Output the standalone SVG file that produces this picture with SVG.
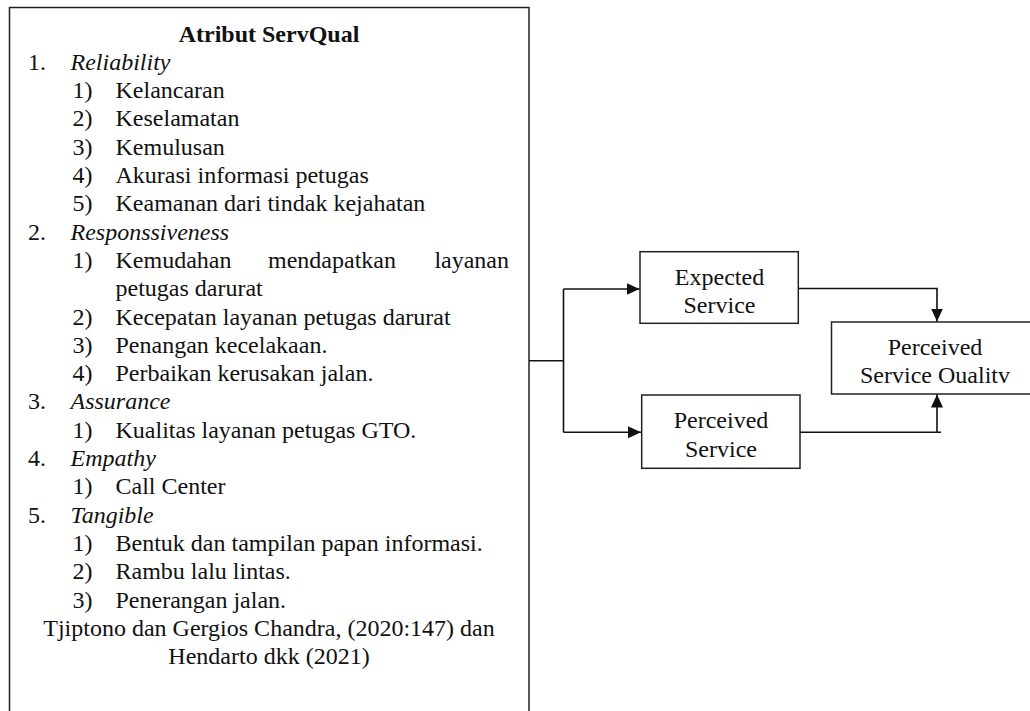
<svg xmlns="http://www.w3.org/2000/svg" width="1030" height="711" viewBox="0 0 1030 711">
<style>
  .t { font-family: "Liberation Serif", "Times New Roman", serif; font-size: 24px; fill: #111; }
  .b { font-weight: bold; }
  .i { font-style: italic; }
  .m { text-anchor: middle; }
  .box { fill: #fff; stroke: #222; stroke-width: 1.5; }
  .ln { fill: none; stroke: #111; stroke-width: 1.6; }
</style>
<defs>
  <marker id="arr" markerUnits="userSpaceOnUse" markerWidth="14" markerHeight="14" viewBox="0 0 14 14" refX="13" refY="7" orient="auto">
    <path d="M0,1 L13,7 L0,13 Z" fill="#111"/>
  </marker>
</defs>
<rect width="1030" height="711" fill="#fff"/>

<g id="servqual-box">
  <rect class="box" x="9.5" y="7.5" width="519.5" height="720"/>
  <text class="t b m" x="269" y="41.5">Atribut ServQual</text>
  <text class="t" x="28" y="69.8">1.</text><text class="t i" x="70.5" y="69.8">Reliability</text>
  <text class="t" x="72.5" y="98.1">1)</text><text class="t" x="115.5" y="98.1">Kelancaran</text>
  <text class="t" x="72.5" y="126.4">2)</text><text class="t" x="115.5" y="126.4">Keselamatan</text>
  <text class="t" x="72.5" y="154.7">3)</text><text class="t" x="115.5" y="154.7">Kemulusan</text>
  <text class="t" x="72.5" y="183">4)</text><text class="t" x="115.5" y="183">Akurasi informasi petugas</text>
  <text class="t" x="72.5" y="211.3">5)</text><text class="t" x="115.5" y="211.3">Keamanan dari tindak kejahatan</text>
  <text class="t" x="28" y="239.6">2.</text><text class="t i" x="70.5" y="239.6">Responssiveness</text>
  <text class="t" x="72.5" y="267.9">1)</text><text class="t" x="115.5" y="267.9">Kemudahan</text><text class="t" x="268" y="267.9">mendapatkan</text><text class="t" x="509" y="267.9" text-anchor="end">layanan</text>
  <text class="t" x="115.5" y="296.2">petugas darurat</text>
  <text class="t" x="72.5" y="324.5">2)</text><text class="t" x="115.5" y="324.5">Kecepatan layanan petugas darurat</text>
  <text class="t" x="72.5" y="352.8">3)</text><text class="t" x="115.5" y="352.8">Penangan kecelakaan.</text>
  <text class="t" x="72.5" y="381.1">4)</text><text class="t" x="115.5" y="381.1">Perbaikan kerusakan jalan.</text>
  <text class="t" x="28" y="409.4">3.</text><text class="t i" x="70.5" y="409.4">Assurance</text>
  <text class="t" x="72.5" y="437.7">1)</text><text class="t" x="115.5" y="437.7">Kualitas layanan petugas GTO.</text>
  <text class="t" x="28" y="466">4.</text><text class="t i" x="70.5" y="466">Empathy</text>
  <text class="t" x="72.5" y="494.3">1)</text><text class="t" x="115.5" y="494.3">Call Center</text>
  <text class="t" x="28" y="522.6">5.</text><text class="t i" x="70.5" y="522.6">Tangible</text>
  <text class="t" x="72.5" y="550.9">1)</text><text class="t" x="115.5" y="550.9">Bentuk dan tampilan papan informasi.</text>
  <text class="t" x="72.5" y="579.2">2)</text><text class="t" x="115.5" y="579.2">Rambu lalu lintas.</text>
  <text class="t" x="72.5" y="607.5">3)</text><text class="t" x="115.5" y="607.5">Penerangan jalan.</text>
  <text class="t m" x="269" y="635.8">Tjiptono dan Gergios Chandra, (2020:147) dan</text>
  <text class="t m" x="269" y="664.1">Hendarto dkk (2021)</text>
</g>

<g id="expected-service">
  <rect class="box" x="640" y="251.7" width="158.3" height="71.6"/>
  <text class="t m" x="719.5" y="285">Expected</text>
  <text class="t m" x="719.5" y="313.3">Service</text>
</g>

<g id="perceived-service">
  <rect class="box" x="641.7" y="395" width="158.3" height="73.3"/>
  <text class="t m" x="721" y="428.3">Perceived</text>
  <text class="t m" x="721" y="456.7">Service</text>
</g>

<g id="perceived-service-quality">
  <rect class="box" x="831.5" y="322" width="210" height="72"/>
  <text class="t m" x="935" y="355">Perceived</text>
  <text class="t m" x="935" y="383.3">Service Oualitv</text>
</g>

<g id="connectors">
  <path class="ln" d="M529,360.7 H563.5"/>
  <path class="ln" d="M563.5,289 V432.3"/>
  <path class="ln" d="M563.5,289 H639.5" marker-end="url(#arr)"/>
  <path class="ln" d="M563.5,432.3 H641" marker-end="url(#arr)"/>
  <path class="ln" d="M798.3,288.5 H937 V321.5" marker-end="url(#arr)"/>
  <path class="ln" d="M800,432.3 H941"/>
  <path class="ln" d="M937,432.3 V394.5" marker-end="url(#arr)"/>
</g>
</svg>
